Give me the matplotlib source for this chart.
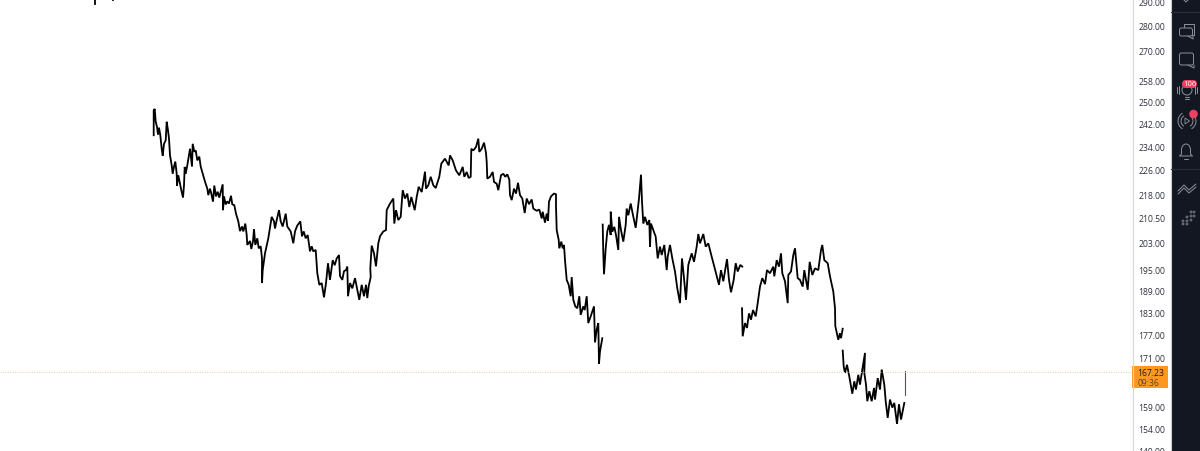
import matplotlib
matplotlib.use("Agg")
import matplotlib.pyplot as plt
from matplotlib.patches import Rectangle, Circle, FancyBboxPatch, Polygon, Arc
from matplotlib.ticker import NullLocator, NullFormatter
from matplotlib.transforms import ScaledTranslation

# ---- data (bar position, price) ----
stub_a_bars = [94.7, 94.7]
stub_a_prices = [295.0, 288.5]
stub_b_bars = [113, 113]
stub_b_prices = [292.0, 290.6]

leg1_bars = [153.7,153.7,154.7,155.7,157,158,159,160.3,161.7,162.7,164,165.7,166.7,168,169,170,171.7,172.7,174,175.3,176.7,177,178.3,180,181.3,183,184,184.7,185.7,187.3,188.7,190,192,192.7,194.3,195.7,197.3,199.3,200.7,202.7,205,207.3,208.3,210,211.3,213,214.3,216,217.7,219.3,222.7,223,224,225.7,227.3,229,231,232.3,234.3,236,238.3,240,242,243.3,245.3,246.7,247.3,250,251.3,253,254,255.3,257.3,258.7,260.7,262,262,262.7,
265,268.3,271.7,274,275,276.7,279,280.7,282.7,285.7,287.3,290.7,293.3,295,297.3,300.3,302,303.7,305.7,307.7,310,311.7,313.3,315.7,317.3,319.3,321.7,324,326,328,330,332.7,334.7,336.7,339,340,342.3,344,346,347.3,348,350,352.3,355,357.3,359.3,361.7,364,366,367.3,368.7,370.7,370.3,371.7,374,376,378.3,380,383.3,386,386.7,390,
393.3,394.3,396,398.3,400.7,402.7,405,407.3,409.3,411.3,414.7,416.7,418.7,421.7,425,426,428.3,430.7,433.3,435.7,439.3,440.3,441.3,445,448.7,450,452.7,456,459.3,462.7,464.3,466.7,468.7,470.7,471.3,473.3,476,478.3,479.3,481.7,484,486,486.7,
487.3,490,492.7,494,496.7,498.3,501,503.3,505.3,507.3,509.3,510,511.7,514,516,518,520,522.3,524.7,526.7,529,531.7,533.3,536.7,539.3,541.7,542.7,545,546.7,548,549,551,554,556,556,556.7,558.7,559.3,561.3,562.7,564,565,566.7,568.7,570.7,571.7,573.3,575.3,577.3,579.3,580.7,583.3,584.7,586.7,588.3,590.7,594,595,596.7,598.3,599,600,602.3]
leg1_prices = [237.6,246.5,247.1,242.4,240.6,237.8,240.3,237.6,232.9,230.5,234.6,235.8,242.4,239.3,236.4,230.6,227.2,224.4,226.8,228.5,224.4,220.5,223.9,221.1,219.0,216.6,220.6,226.7,224.4,227.2,230.1,232.9,226.8,234.6,231.9,232.3,228.9,230.2,226.8,224.4,221.8,219.5,217.4,219.5,217.9,215.3,220.5,217.0,218.5,216.6,220.9,212.6,217.0,214.4,215.4,214.7,217.2,214.4,214.2,211.5,209.1,206.1,207.5,206.0,208.4,204.9,201.9,203.1,200.7,203.0,206.7,201.9,203.9,200.9,201.5,197.9,190.8,194.5,
199.4,203.9,210.5,209.1,206.9,209.5,212.6,209.1,207.5,211.5,207.5,206.0,202.4,206.0,207.8,209.1,204.5,206.0,203.9,204.9,200.0,201.5,200.0,200.4,193.6,190.3,190.8,186.8,190.8,196.5,191.7,197.4,195.9,197.9,198.9,192.8,191.7,194.2,194.5,195.5,187.1,190.8,189.3,192.2,188.9,186.1,190.3,187.1,190.3,186.6,189.9,192.5,195.0,201.7,199.4,195.6,202.4,204.5,206.0,206.4,212.6,214.7,
216.3,208.4,212.6,209.5,210.5,219.0,216.3,217.9,213.6,216.8,212.6,216.8,220.1,218.4,225.1,219.5,220.6,223.4,220.6,219.7,223.4,225.5,227.8,229.5,227.2,230.6,228.9,225.5,223.9,226.7,223.4,225.0,223.0,223.4,232.9,232.3,233.5,236.4,231.8,232.9,235.0,231.5,228.4,
222.8,223.4,225.0,221.7,221.1,219.0,223.9,224.4,223.4,224.2,222.5,217.4,215.8,219.5,217.9,221.4,217.4,216.3,211.7,216.3,214.5,216.0,213.1,212.4,212.8,210.0,212.1,208.7,211.5,209.3,215.3,217.0,217.9,217.7,213.8,206.4,203.4,200.9,202.9,200.9,201.9,197.4,191.7,190.3,187.1,192.5,186.1,184.3,183.8,187.1,182.0,184.3,183.3,187.1,179.8,181.6,184.3,174.7,178.1,179.8,169.3,172.4,175.8]

leg2_bars = [602.7,603.3,604,605.7,607.3,609,610.7,610.7,612.3,614.3,616,618.3,619,621,623.3,625.7,626.7,628.3,630.7,633,635.7,637.7,639,641,642,643.3,645,647.3,649.3,650,651,653.3,655.7,657.7,660,661.7,664.3,666.7,667.7,670,672.3,675,677.3,680,682,683.7,686,688.3,691.7,694,696.7,698.3,700,703.3,705.7,708.3,711.7,714.3,719,721,723.3,727,729,731,733.7,735.7,737.7,740.3,742.3]
leg2_prices = [208.1,199.4,193.3,200.9,206.0,208.0,204.9,212.1,205.9,207.4,204.9,200.4,210.5,206.4,202.9,208.0,213.1,211.0,214.7,211.0,207.1,212.6,216.3,224.1,215.3,208.4,210.5,208.0,209.5,201.4,208.4,206.4,204.4,197.9,201.4,198.9,201.9,194.5,198.4,201.9,197.9,194.1,189.3,185.2,197.9,193.1,186.1,196.0,199.4,196.9,201.4,205.2,202.4,205.2,201.4,202.4,198.4,195.5,190.3,194.5,191.3,197.7,191.7,188.2,191.7,196.5,194.1,196.0,195.5]

leg3_bars = [742,742.7,745,747,749,751,753,755.7,757.7,760,762.3,765,767,770,773.3,774.3,776.7,779,781,782.3,785,787.7,788.3,791,793.3,795,797.7,800,802.7,804.3,807.7,809.7,812.3,815,818.3,821,822.3,824.3,827.7,830,833.3,835,835.3,838.3,840,841,842.7]
leg3_prices = [183.8,176.3,179.8,178.5,182.4,180.7,183.3,181.6,185.2,189.8,192.2,190.5,194.5,193.6,195.5,192.7,197.4,195.5,199.4,193.6,191.3,185.2,193.1,194.1,198.9,200.9,192.2,191.7,189.8,194.5,188.9,196.9,193.1,195.0,194.5,200.4,201.9,197.4,196.5,192.7,188.4,183.8,179.0,175.4,177.1,175.8,178.3]

leg4_bars = [842.7,843.7,845,847,849,852.3,854.3,856,858.3,860,862.3,865,864.3,866,867.3,869.3,871.7,874,875,877.7,880,881.7,884.3,885.7,887.7,890,892.3,894.3,897,899,901,904.3]
leg4_prices = [172.6,168.6,167.0,169.0,166.5,161.9,164.9,162.9,166.5,164.1,167.8,172.0,167.0,164.1,160.1,162.5,160.1,163.3,160.5,165.7,162.9,167.8,164.1,160.1,156.2,160.5,158.6,159.7,154.8,159.4,155.8,159.7]

last_bar_x = [905, 905]
last_bar_prices = [161.7, 167.4]

tick_prices = [290, 280, 270, 258, 250, 242, 234, 226, 218, 210.5, 203, 195, 189, 183, 177, 171, 159, 154, 149]
tick_labels = ["290.00","280.00","270.00","258.00","250.00","242.00","234.00","226.00","218.00","210.50","203.00","195.00","189.00","183.00","177.00","171.00","159.00","154.00","149.00"]
last_price = 167.23
last_label = "167.23"
countdown = "09:36"
badge_text = "106"

# ---- colours ----
PANEL = "#131722"
ICON = "#8f929b"
TEXT = "#2e323d"

plt.rcParams['font.family'] = ['Open Sans', 'DejaVu Sans']
fig = plt.figure(figsize=(12, 4.52), dpi=100, facecolor="white")

ax = fig.add_axes([0, 0, 1132/1200, 1])
ax.set_yscale("log")
ax.set_xlim(0, 1132)
ax.set_ylim(148.7, 290.86)
for s in ax.spines.values():
    s.set_visible(False)
ax.xaxis.set_visible(False)
ax.yaxis.tick_right()
ax.yaxis.set_minor_locator(NullLocator())
ax.yaxis.set_minor_formatter(NullFormatter())
ax.set_yticks(tick_prices)
ax.set_yticklabels(tick_labels, fontsize=6.2, color=TEXT)
ax.tick_params(axis="y", length=0, pad=4.5)
shift = ScaledTranslation(0, -1/100, fig.dpi_scale_trans)
for lab in ax.get_yticklabels():
    lab.set_transform(lab.get_transform() + shift)

for b, p in [(stub_a_bars, stub_a_prices), (stub_b_bars, stub_b_prices),
             (leg1_bars, leg1_prices), (leg2_bars, leg2_prices),
             (leg3_bars, leg3_prices), (leg4_bars, leg4_prices)]:
    ax.plot(b, p, color="black", lw=1.3, solid_joinstyle="bevel")
ax.plot(last_bar_x, last_bar_prices, color="#555555", lw=0.8)

ax.axhline(last_price, color="#f5c79a", lw=0.7, ls=(0, (1, 1.5)))

# ---- chrome in pixel coordinates ----
ov = fig.add_axes([0, 0, 1, 1], facecolor="none")
ov.set_xlim(0, 1200)
ov.set_ylim(452, 0)
ov.axis("off")

ov.plot([1132.5, 1132.5], [0, 452], color="#d6d8dd", lw=0.8)
ov.add_patch(Rectangle((1171, 0), 29, 452, color=PANEL, lw=0))
ov.plot([1170.5, 1170.5], [0, 452], color="#c9cbd1", lw=0.8)
ov.plot([1171, 1200], [12.5, 12.5], color="#2a2e39", lw=0.8)
ov.plot([1171, 1200], [169.5, 169.5], color="#2a2e39", lw=0.8)

# price label
ov.add_patch(Rectangle((1132, 367), 36, 22, color="#ff9822", lw=0))
ov.text(1151, 374, last_label, fontsize=6.2, color="#1c1c1c", ha="center", va="center")
ov.text(1149, 384, countdown, fontsize=6.2, color="#5a4420", ha="center", va="center")


def stroke(xs, ys, lw=0.7, c=ICON):
    ov.plot(xs, ys, color=c, lw=lw, solid_capstyle="round")


# top icon remnant
stroke([1183, 1186, 1189], [0, 3, 0])
# two bubbles
stroke([1184, 1184, 1194, 1194, 1192], [28, 24.5, 24.5, 36, 36])
ov.add_patch(FancyBboxPatch((1179.5, 29), 13, 8, boxstyle="round,pad=0,rounding_size=2", fc=PANEL, ec=ICON, lw=0.7))
stroke([1188, 1193, 1193], [37, 40, 37])
# one bubble
ov.add_patch(FancyBboxPatch((1179.5, 54), 14, 12, boxstyle="round,pad=0,rounding_size=2", fc=PANEL, ec=ICON, lw=0.7))
stroke([1188, 1194, 1194], [66, 69, 66])
# bulb
ov.add_patch(Circle((1187, 91), 5, fc=PANEL, ec=ICON, lw=0.7))
stroke([1185, 1189], [98, 98])
stroke([1185, 1189], [100, 100])
stroke([1179, 1179], [87, 95]); stroke([1195, 1195], [87, 95])
stroke([1177, 1177], [88, 94]); stroke([1197, 1197], [88, 94])
ov.add_patch(FancyBboxPatch((1182, 81), 15, 8, boxstyle="round,pad=0,rounding_size=4", fc="#f23e5f", ec="none"))
ov.text(1189.5, 85, badge_text, fontsize=5.5, color="white", ha="center", va="center")
# broadcast
ov.add_patch(Arc((1187, 122), 18, 18, theta1=120, theta2=240, ec=ICON, lw=0.7))
ov.add_patch(Arc((1187, 122), 12, 12, theta1=120, theta2=240, ec=ICON, lw=0.7))
ov.add_patch(Arc((1187, 122), 18, 18, theta1=-60, theta2=60, ec=ICON, lw=0.7))
ov.add_patch(Arc((1187, 122), 12, 12, theta1=-60, theta2=60, ec=ICON, lw=0.7))
ov.add_patch(Polygon([(1185, 119), (1185, 125), (1189.5, 122)], fc="none", ec=ICON, lw=0.6))
ov.add_patch(Circle((1193.5, 115), 4.3, fc="#f23e5f", ec="none"))
# bell
ov.add_patch(Arc((1186, 151), 9, 12, theta1=180, theta2=360, ec=ICON, lw=0.7))
stroke([1181.5, 1181.5, 1179.5, 1192.5, 1190.5, 1190.5], [151, 155, 157, 157, 155, 151])
stroke([1184, 1188], [159.5, 159.5])
# double zigzag
stroke([1178, 1184, 1189, 1196], [192, 186, 191, 185])
stroke([1178, 1184, 1189, 1196], [195, 189, 194, 188])
# dots
for cx, cy in [(1191, 213), (1194, 213), (1191, 217), (1194, 217), (1187, 218), (1187, 222),
               (1191, 221), (1183, 222), (1183, 225), (1187, 225)]:
    ov.add_patch(Circle((cx, cy), 1.0, fc=PANEL, ec=ICON, lw=0.5))

fig.savefig("out.png", dpi=100, facecolor="white")
